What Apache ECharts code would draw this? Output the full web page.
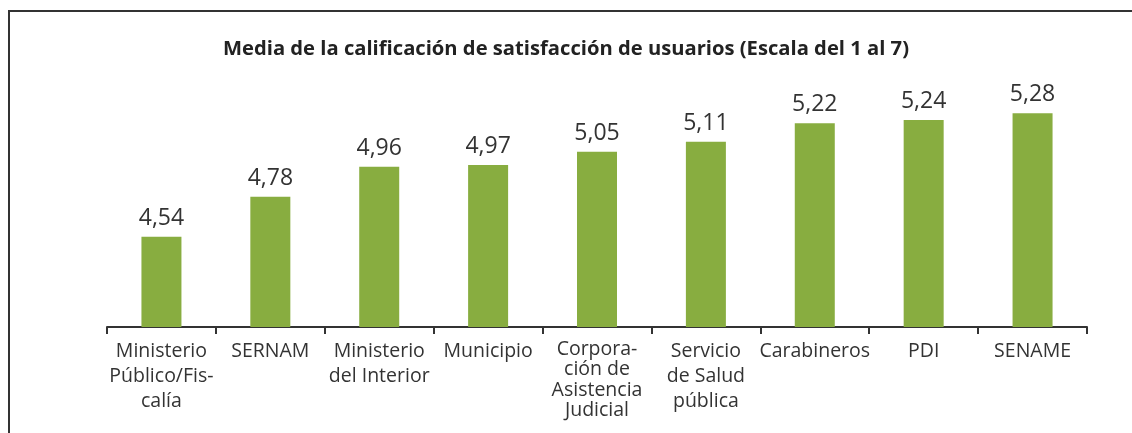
<!DOCTYPE html>
<html>
<head>
<meta charset="utf-8">
<script src="https://cdn.jsdelivr.net/npm/echarts@6/dist/echarts.min.js"></script>
<style>html,body{margin:0;padding:0;background:#fff}#chart{width:1132px;height:433px}</style>
</head>
<body>
<div id="chart"></div>
<script>
const titleText = 'Media de la calificación de satisfacción de usuarios (Escala del 1 al 7)';
const categories = [
  'Ministerio\nPúblico/Fis-\ncalía',
  'SERNAM',
  'Ministerio\ndel Interior',
  'Municipio',
  'Corpora-\nción de\nAsistencia\nJudicial',
  'Servicio\nde Salud\npública',
  'Carabineros',
  'PDI',
  'SENAME'
];
const values = [4.54, 4.78, 4.96, 4.97, 5.05, 5.11, 5.22, 5.24, 5.28];

const chart = echarts.init(document.getElementById('chart'));
chart.setOption({
  animation: false,
  textStyle: { fontFamily: 'Open Sans' },
  title: {
    text: titleText,
    left: 'center',
    top: 34,
    textStyle: { fontFamily: 'Open Sans', fontWeight: 'bold', fontSize: 20.2, color: '#222' }
  },
  graphic: [{
    type: 'polyline',
    shape: { points: [[9, 433], [9, 11], [1132, 11]] },
    style: { stroke: '#333', lineWidth: 2, fill: null }
  }],
  grid: { left: 107, right: 45, top: 76.5, bottom: 106, containLabel: false, outerBoundsMode: 'none' },
  xAxis: {
    type: 'category',
    data: categories,
    axisLine: { lineStyle: { color: '#333', width: 2 } },
    axisTick: { show: true, length: 7, lineStyle: { color: '#333', width: 2 } },
    axisLabel: {
      interval: 0, fontSize: 19.5, lineHeight: 25, color: '#333', margin: 12, fontFamily: 'Open Sans',
      formatter: v => v.split('\n').length > 3 ? '{t|' + v + '}' : v,
      rich: { t: { fontSize: 19.5, lineHeight: 20.5, color: '#333', fontFamily: 'Open Sans' } }
    }
  },
  yAxis: { type: 'value', min: 4, max: 5.5, show: false },
  series: [{
    type: 'bar',
    data: values,
    barWidth: 40,
    itemStyle: { color: '#88AD40' },
    label: {
      show: true, position: 'top', distance: 7, fontSize: 23, color: '#333', fontFamily: 'Open Sans',
      formatter: p => p.value.toFixed(2).replace('.', ',')
    }
  }]
});
</script>
</body>
</html>
